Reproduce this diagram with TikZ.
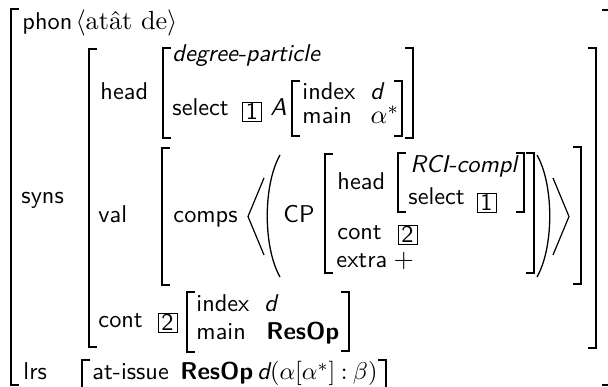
\documentclass[tikz,border=0pt]{standalone}
\usepackage{fontspec}
\tikzset{
  txt/.style={anchor=base west, inner sep=0pt, scale=2.43, font=\sffamily},
  mtxt/.style={anchor=base west, inner sep=0pt, scale=2.62, font=\sffamily},
  btxt/.style={txt, font=\sffamily\bfseries},
  tag/.style={draw, line width=0.9pt, minimum width=7.8pt, minimum height=7.8pt, inner sep=0pt, scale=2.43, font=\sffamily},
  brk/.style={line width=1.1pt},
  delim/.style={line width=1.2pt, line join=miter}
}
\newcommand\lbrk[3]{\draw[brk] (#1+8,#2) -- (#1,#2) -- (#1,#3) -- (#1+8,#3);}
\newcommand\rbrk[3]{\draw[brk] (#1-8,#2) -- (#1,#2) -- (#1,#3) -- (#1-8,#3);}
\begin{document}
\begin{tikzpicture}[x=1pt,y=-1pt]
\useasboundingbox (0,0) rectangle (608,387);
% brackets
\lbrk{11}{9}{385}  \rbrk{610}{10}{385}
\lbrk{89}{49}{347} \rbrk{596}{48}{348}
\lbrk{163}{48}{138} \rbrk{413}{48}{138}
\lbrk{292}{81}{136} \rbrk{402}{81}{136}
\lbrk{162}{148}{285} \rbrk{581}{147}{284}
\lbrk{325}{154}{273} \rbrk{534}{153}{273}
\lbrk{398}{153}{212} \rbrk{524}{153}{212}
\lbrk{187}{292}{352} \rbrk{349}{292}{351}
\lbrk{82}{360}{396} \rbrk{386}{360}{396}
% angle brackets and parentheses
\draw[delim] (264,178) -- (248,216.5) -- (264,255);
\draw[delim] (553,178) -- (569,216.5) -- (553,255);
\draw[line width=1.3pt] (280,155) .. controls (263,185) and (263,247) .. (280,277);
\draw[line width=1.3pt] (537,155) .. controls (554,185) and (554,247) .. (537,277);
% texts
\node[txt] (phon) at (22,30) {phon};
\node[mtxt] (phonv) at (75,30) {$\langle$\rmfamily atât de$\rangle$};
\node[txt] (syns) at (21,204) {syns};
\node[txt] (head1) at (100,100) {head};
\node[txt] (dp) at (172,62) {\itshape degree-particle};
\node[txt] (sel1) at (172,116) {select};
\node[tag] (b1a) at (252,111.5) {1};
\node[txt] (A) at (270,116) {\itshape A};
\node[txt] (idx1) at (302,100) {index};
\node[txt] (d1) at (370,100) {\itshape d};
\node[txt] (main1) at (302,124) {main};
\node[mtxt] (al1) at (370,124) {$\alpha^*$};
\node[txt] (val) at (98,223) {val};
\node[txt] (comps) at (173,223) {comps};
\node[txt] (CP) at (283,223) {CP};
\node[txt] (head2) at (337,190) {head};
\node[txt] (rci) at (410,173) {\itshape RCI-compl};
\node[txt] (sel2) at (408,205) {select};
\node[tag] (b1b) at (486.5,202.5) {1};
\node[txt] (cont2) at (337,240) {cont};
\node[tag] (b2a) at (407.5,234.5) {2};
\node[txt] (extra) at (336,268) {extra};
\node[mtxt] (plus) at (393,268) {$+$};
\node[txt] (cont1) at (98,328) {cont};
\node[tag] (b2b) at (167.5,322.5) {2};
\node[txt] (idx2) at (196,312) {index};
\node[txt] (d2) at (264,312) {\itshape d};
\node[txt] (main2) at (196,340) {main};
\node[btxt] (rop1) at (266,340) {ResOp};
\node[txt] (lrs) at (23,380) {lrs};
\node[txt] (ati) at (92,380) {at-issue};
\node[btxt] (rop2) at (180,380) {ResOp};
\node[txt] (form) at (257,380) {\itshape d\upshape$(\alpha[\alpha^*]\mathbin{:}\beta)$};
\end{tikzpicture}
\end{document}
